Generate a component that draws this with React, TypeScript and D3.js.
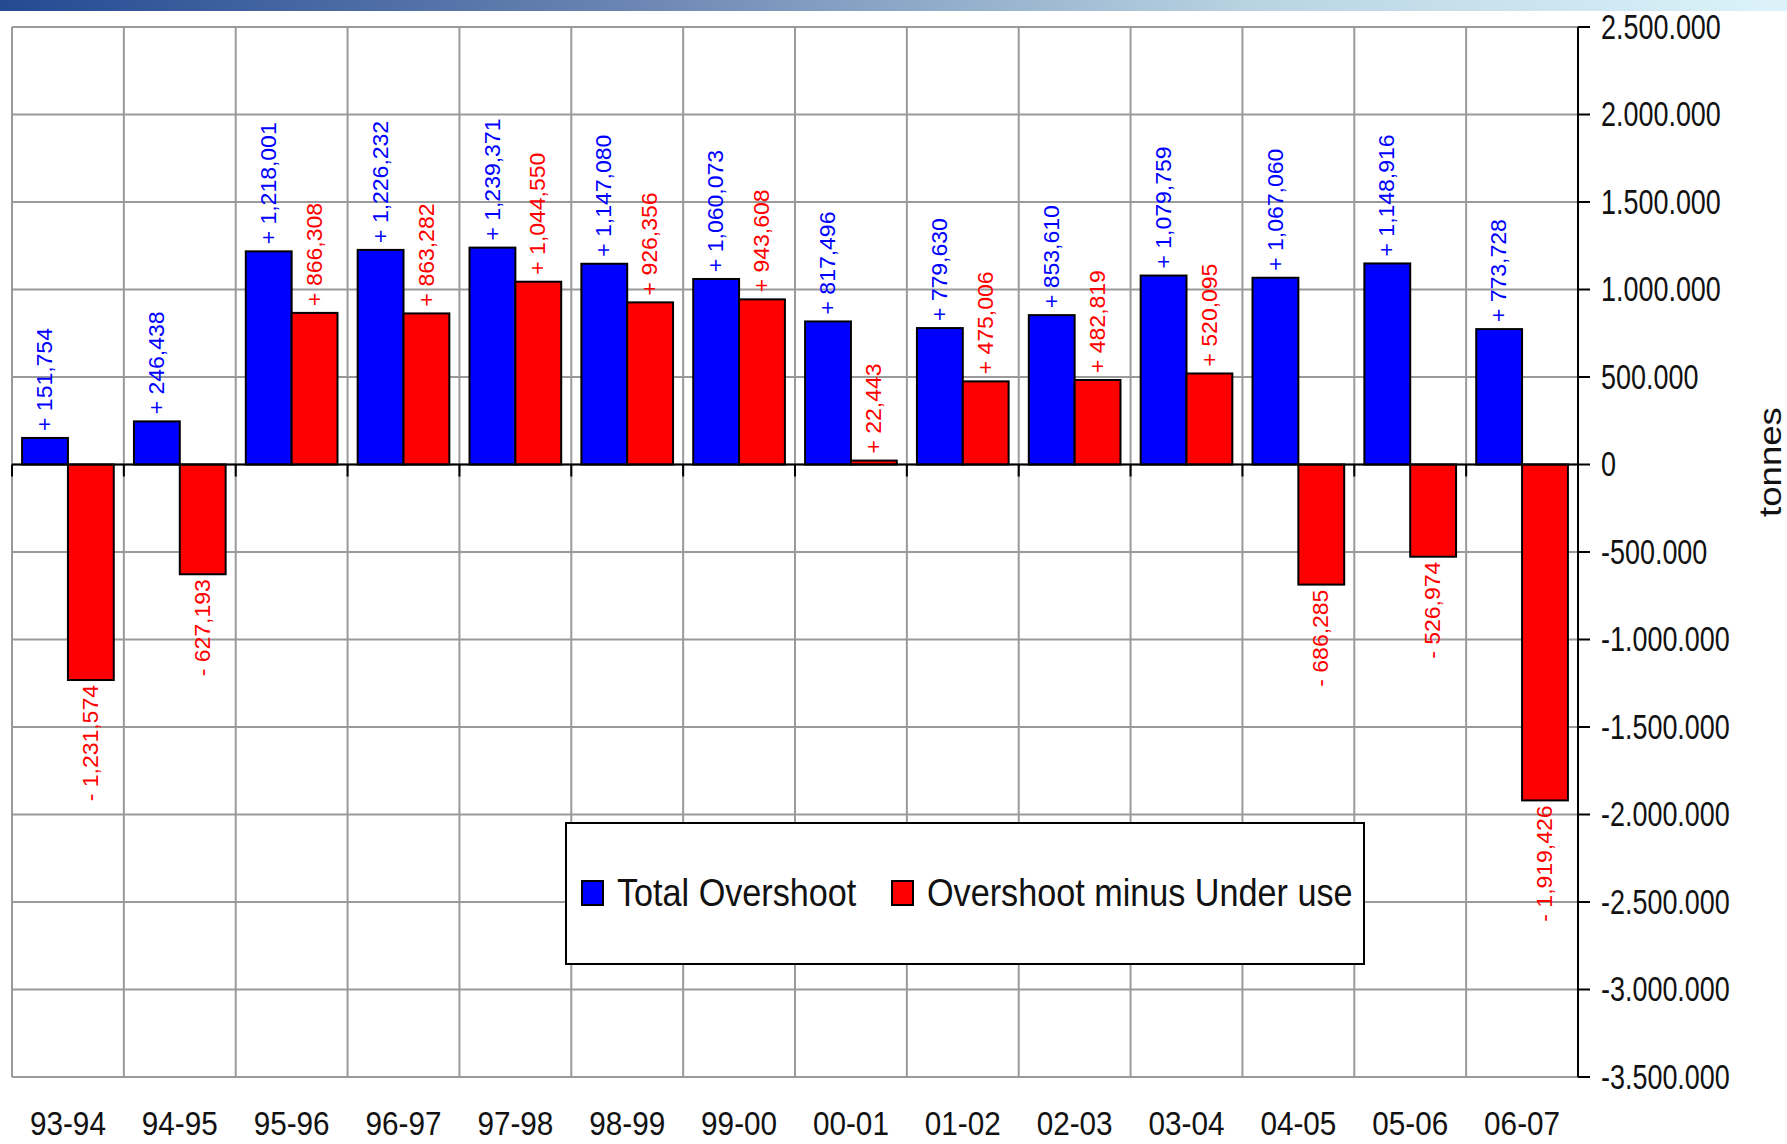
import React, { useEffect } from "react";
import * as d3 from "d3";

const categories = ["93-94", "94-95", "95-96", "96-97", "97-98", "98-99", "99-00", "00-01", "01-02", "02-03", "03-04", "04-05", "05-06", "06-07"];
const totalOvershoot = [151754, 246438, 1218001, 1226232, 1239371, 1147080, 1060073, 817496, 779630, 853610, 1079759, 1067060, 1148916, 773728];
const overshootMinusUnderUse = [-1231574, -627193, 866308, 863282, 1044550, 926356, 943608, 22443, 475006, 482819, 520095, -686285, -526974, -1919426];
const seriesNames = ["Total Overshoot", "Overshoot minus Under use"];
const seriesColors = ["#0000ff", "#ff0000"];
const yDomain = [-3500000, 2500000];
const yTickStep = 500000;
const yAxisTitle = "tonnes";

const W = 1787;
const H = 1144;
const FONT = "'Liberation Sans', Arial, Helvetica, sans-serif";

export default function App() {
  useEffect(() => {
    document.body.style.margin = "0";
  }, []);

  const left = 12, right = 1578, top = 27, bottom = 1077;
  const y = d3.scaleLinear().domain(yDomain).range([bottom, top]);
  const x0 = d3.scaleBand().domain(categories).range([left, right]).paddingInner(0).paddingOuter(0);
  const x1 = d3.scaleBand().domain(seriesNames).range([0, x0.bandwidth()]).paddingInner(0).paddingOuter(0.22);
  const ticks = d3.range(yDomain[0], yDomain[1] + 1, yTickStep);
  const locale = d3.formatLocale({ decimal: ",", thousands: ".", grouping: [3], currency: ["", ""], minus: "-" });
  const fmtAxis = locale.format(",");
  const fmtLabel = d3.format(",");
  const series = [totalOvershoot, overshootMinusUnderUse];
  const y0 = y(0);

  const boundaries = d3.range(categories.length + 1).map((i) =>
    i < categories.length ? (x0(categories[i]) as number) : right
  );

  return (
    <svg width={W} height={H} style={{ position: "absolute", left: 0, top: 0, background: "#fff" }} fontFamily={FONT}>
      <defs>
        <linearGradient id="topbar" x1="0" x2="1" y1="0" y2="0">
          <stop offset="0" stopColor="#244a93" />
          <stop offset="0.35" stopColor="#6a85b2" />
          <stop offset="0.7" stopColor="#b9d3e2" />
          <stop offset="1" stopColor="#dcf3fa" />
        </linearGradient>
      </defs>
      <rect x={0} y={0} width={W} height={11} fill="url(#topbar)" />

      {/* grid */}
      <g stroke="#9a9a9a" strokeWidth={2}>
        {ticks.map((t) => (
          <line key={"h" + t} x1={left} x2={right} y1={y(t)} y2={y(t)} />
        ))}
        {boundaries.map((bx, i) => (
          <line key={"v" + i} x1={bx} x2={bx} y1={top} y2={bottom} />
        ))}
      </g>

      {/* bars */}
      {categories.map((c, i) => (
        <g key={c} transform={`translate(${x0(c)},0)`}>
          {series.map((vals, s) => {
            const v = vals[i];
            const bx = x1(seriesNames[s]) as number;
            const bw = x1.bandwidth();
            return (
              <rect
                key={s}
                x={bx}
                width={bw}
                y={Math.min(y(v), y0)}
                height={Math.abs(y(v) - y0)}
                fill={seriesColors[s]}
                stroke="#000"
                strokeWidth={2}
              />
            );
          })}
        </g>
      ))}

      {/* zero axis */}
      <line x1={left} x2={right} y1={y0} y2={y0} stroke="#000" strokeWidth={2} />
      {boundaries.map((bx, i) => (
        <line key={"zt" + i} x1={bx} x2={bx} y1={y0} y2={y0 + 12} stroke="#000" strokeWidth={2} />
      ))}

      {/* right axis */}
      <line x1={right} x2={right} y1={top} y2={bottom} stroke="#000" strokeWidth={2} />
      {ticks.map((t) => (
        <g key={"t" + t}>
          <line x1={right} x2={right + 12} y1={y(t)} y2={y(t)} stroke="#000" strokeWidth={2} />
          <text
            transform={`translate(1601,${y(t)}) scale(0.77,1)`}
            dominantBaseline="central"
            fontSize={35}
            fill="#111"
          >
            {fmtAxis(t)}
          </text>
        </g>
      ))}
      <text
        transform={`translate(1770,462) rotate(-90) scale(1.18,1)`}
        textAnchor="middle"
        dominantBaseline="central"
        fontSize={31}
        fill="#111"
      >
        {yAxisTitle}
      </text>

      {/* data labels */}
      {categories.map((c, i) =>
        series.map((vals, s) => {
          const v = vals[i];
          const cx = (x0(c) as number) + (x1(seriesNames[s]) as number) + x1.bandwidth() / 2;
          const pos = v >= 0;
          const ly = pos ? y(v) - 7 : y(v) + 5;
          const label = (pos ? "+ " : "- ") + fmtLabel(Math.abs(v));
          return (
            <text
              key={c + s}
              transform={`translate(${cx},${ly}) rotate(-90) scale(1,0.92)`}
              textAnchor={pos ? "start" : "end"}
              dominantBaseline="central"
              fontSize={23}
              fill={seriesColors[s]}
            >
              {label}
            </text>
          );
        })
      )}

      {/* category labels */}
      {categories.map((c) => (
        <text
          key={"c" + c}
          transform={`translate(${(x0(c) as number) + x0.bandwidth() / 2},1135) scale(0.9,1)`}
          textAnchor="middle"
          fontSize={33}
          fill="#111"
        >
          {c}
        </text>
      ))}

      {/* legend */}
      <g>
        <rect x={566} y={823} width={798} height={141} fill="#fff" stroke="#000" strokeWidth={2} />
        {seriesNames.map((n, s) => {
          const sx = s === 0 ? 582 : 892;
          return (
            <g key={n}>
              <rect x={sx} y={881} width={21} height={24} fill={seriesColors[s]} stroke="#000" strokeWidth={2} />
              <text
                transform={`translate(${sx + 35},${893}) scale(0.9,1)`}
                dominantBaseline="central"
                fontSize={38}
                fill="#111"
              >
                {n}
              </text>
            </g>
          );
        })}
      </g>
    </svg>
  );
}
